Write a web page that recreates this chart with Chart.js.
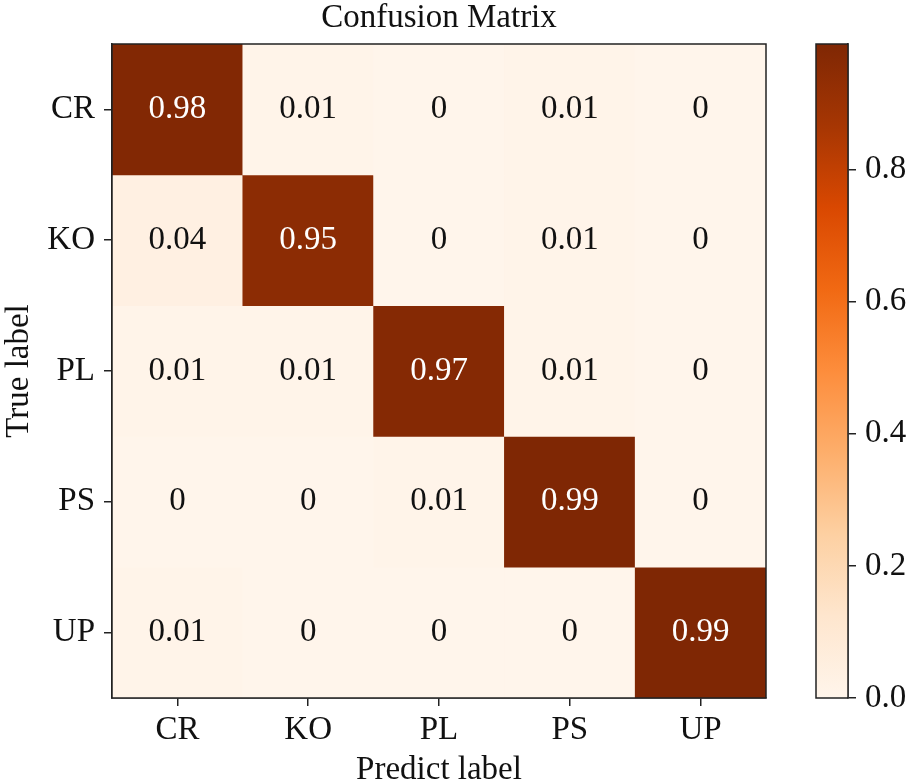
<!DOCTYPE html>
<html>
<head>
<meta charset="utf-8">
<script src="https://cdn.jsdelivr.net/npm/chart.js@4.4.1/dist/chart.umd.min.js"></script>
<style>
  html, body { margin: 0; padding: 0; background: #fff; }
  #wrap { position: relative; width: 913px; height: 784px; }
  #main { position: absolute; left: 0; top: 0; }
  #cbar { position: absolute; left: 800px; top: 0; }
</style>
</head>
<body>
<div id="wrap">
  <canvas id="main" width="800" height="784"></canvas>
  <canvas id="cbar" width="113" height="784"></canvas>
</div>
<script>
// confusion matrix data (rows = true label, cols = predicted label)
const PRED_LABELS = ["CR", "KO", "PL", "PS", "UP"];
const TRUE_LABELS = ["CR", "KO", "PL", "PS", "UP"];
const ROW_CR = [0.98, 0.01, 0, 0.01, 0];
const ROW_KO = [0.04, 0.95, 0, 0.01, 0];
const ROW_PL = [0.01, 0.01, 0.97, 0.01, 0];
const ROW_PS = [0, 0, 0.01, 0.99, 0];
const ROW_UP = [0.01, 0, 0, 0, 0.99];
const MATRIX = [ROW_CR, ROW_KO, ROW_PL, ROW_PS, ROW_UP];
const CBAR_TICKS = [0, 0.2, 0.4, 0.6, 0.8];

const VMAX = Math.max(...MATRIX.flat());
const FONT = "'Liberation Serif', 'Times New Roman', serif";
const INK = "#111";

// matplotlib "Oranges"
const ORANGES = ["#fff5eb", "#fee6ce", "#fdd0a2", "#fdae6b", "#fd8d3c", "#f16913", "#d94801", "#a63603", "#7f2704"];

function hexRgb(h) {
    return [1, 3, 5].map(i => parseInt(h.slice(i, i + 2), 16));
}

function orange(t) {
    t = Math.min(1, Math.max(0, t));
    const pos = t * (ORANGES.length - 1);
    const i = Math.min(ORANGES.length - 2, Math.floor(pos));
    const f = pos - i;
    const a = hexRgb(ORANGES[i]), b = hexRgb(ORANGES[i + 1]);
    const c = a.map((v, k) => Math.round(v + (b[k] - v) * f));
    return `rgb(${c[0]},${c[1]},${c[2]})`;
}

// box around the plotting area
const framePlugin = {
    id: "frame",
    afterDraw(chart) {
        const { ctx, chartArea: a } = chart;
        ctx.save();
        ctx.strokeStyle = "#222";
        ctx.lineWidth = 1.5;
        ctx.strokeRect(a.left, a.top, a.right - a.left, a.bottom - a.top);
        ctx.restore();
    }
};

// value text in each cell
const cellText = {
    id: "cellText",
    afterDatasetsDraw(chart) {
        const { ctx } = chart;
        ctx.save();
        ctx.font = `33px ${FONT}`;
        ctx.textAlign = "center";
        ctx.textBaseline = "middle";
        chart.data.datasets.forEach((ds, r) => {
            const meta = chart.getDatasetMeta(r);
            meta.data.forEach((el, c) => {
                const v = MATRIX[r][c];
                const p = el.getCenterPoint();
                ctx.fillStyle = v > VMAX / 2 ? "#fff" : INK;
                ctx.fillText(String(v), p.x, p.y);
            });
        });
        ctx.restore();
    }
};

const datasets = MATRIX.map((row, r) => ({
    label: TRUE_LABELS[r],
    data: row.map(() => [r, r + 1]),
    backgroundColor: row.map(v => orange(v / VMAX)),
    borderWidth: 0,
    barPercentage: 1,
    categoryPercentage: 1,
    grouped: false
}));

new Chart(document.getElementById("main"), {
    type: "bar",
    data: { labels: PRED_LABELS, datasets },
    options: {
        responsive: false,
        animation: false,
        events: [],
        layout: { padding: { left: 0, right: 34, top: 0, bottom: 0 } },
        plugins: {
            legend: { display: false },
            tooltip: { enabled: false },
            title: {
                display: true,
                text: "Confusion Matrix",
                color: INK,
                fullSize: false,
                font: { family: FONT, size: 33, weight: "normal", lineHeight: 1.1 },
                padding: { top: 0, bottom: 7.7 }
            }
        },
        scales: {
            x: {
                grid: { drawOnChartArea: false, offset: false, tickLength: 8, color: "#222", lineWidth: 1.5 },
                border: { display: true, color: "#222", width: 1.5 },
                ticks: { color: INK, padding: 5, font: { family: FONT, size: 33 } },
                title: {
                    display: true, text: "Predict label", color: INK,
                    font: { family: FONT, size: 33, lineHeight: 0.8 }, padding: 0
                },
                afterFit(scale) { scale.height = 86; }
            },
            y: {
                type: "linear",
                reverse: true,
                min: 0,
                max: TRUE_LABELS.length,
                afterBuildTicks(scale) {
                    scale.ticks = TRUE_LABELS.map((_, i) => ({ value: i + 0.5 }));
                },
                grid: { drawOnChartArea: false, tickLength: 8, color: "#222", lineWidth: 1.5 },
                border: { display: true, color: "#222", width: 1.5 },
                ticks: {
                    color: INK, padding: 9, font: { family: FONT, size: 33 },
                    callback: (v, i) => TRUE_LABELS[i]
                },
                title: {
                    display: true, text: "True label", color: INK,
                    font: { family: FONT, size: 33, lineHeight: 1.2 }, padding: 0
                },
                afterFit(scale) { scale.width = 112; }
            }
        }
    },
    plugins: [cellText, framePlugin]
});

// colour bar
new Chart(document.getElementById("cbar"), {
    type: "bar",
    data: {
        labels: [""],
        datasets: [{
            data: [[0, VMAX]],
            borderWidth: 0,
            barPercentage: 1,
            categoryPercentage: 1,
            backgroundColor(ctx) {
                const chart = ctx.chart;
                const ys = chart.scales.y;
                if (!chart.chartArea || !ys) return ORANGES[0];
                const g = chart.ctx.createLinearGradient(0, ys.getPixelForValue(0), 0, ys.getPixelForValue(VMAX));
                ORANGES.forEach((c, i) => g.addColorStop(i / (ORANGES.length - 1), c));
                return g;
            }
        }]
    },
    options: {
        responsive: false,
        animation: false,
        events: [],
        layout: { padding: { left: 16, right: 0, top: 44, bottom: 86 } },
        plugins: { legend: { display: false }, tooltip: { enabled: false } },
        scales: {
            x: { display: false },
            y: {
                position: "right",
                min: 0,
                max: VMAX,
                afterBuildTicks(scale) {
                    scale.ticks = CBAR_TICKS.map(v => ({ value: v }));
                },
                grid: { drawOnChartArea: false, tickLength: 8, color: "#222", lineWidth: 1.5 },
                border: { display: true, color: "#222", width: 1.5 },
                ticks: {
                    color: INK, padding: 9, font: { family: FONT, size: 33 },
                    callback: v => Number(v).toFixed(1)
                },
                afterFit(scale) { scale.width = 65; }
            }
        }
    },
    plugins: [framePlugin]
});
</script>
</body>
</html>
